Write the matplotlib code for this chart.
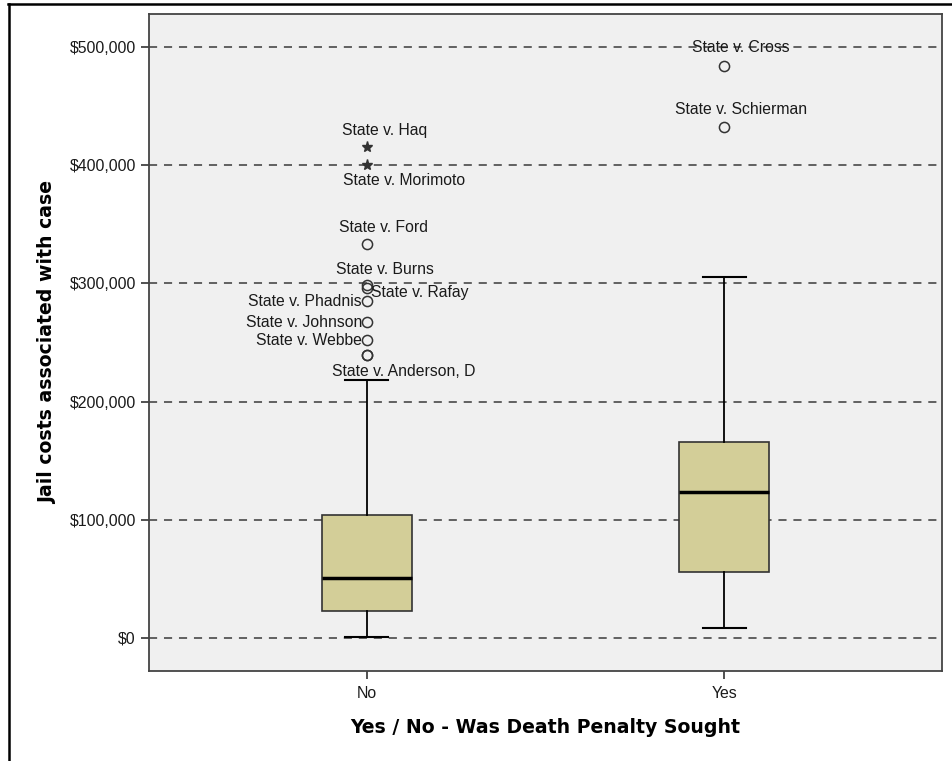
import matplotlib.pyplot as plt
from matplotlib.lines import Line2D
from matplotlib.ticker import FuncFormatter

plt.rcParams['font.family'] = ['Liberation Sans', 'DejaVu Sans']

# group labels and five-number summaries
groups = ['No', 'Yes']
whislo = [1000, 8500]
q1 = [23000, 55800]
med = [50800, 123500]
q3 = [104000, 165800]
whishi = [218300, 305400]

# outliers (group index, value, case, marker)
out_group = [0, 0, 0, 0, 0, 0, 0, 0, 0, 0, 1, 1]
out_value = [415400, 400200, 333300, 298600, 296100, 285100, 267300,
             252100, 239400, 239400, 483700, 432300]
out_case = ['State v. Haq', 'State v. Morimoto', 'State v. Ford', 'State v. Burns',
            'State v. Rafay', 'State v. Phadnis', 'State v. Johnson', 'State v. Webbe',
            '', 'State v. Anderson, D', 'State v. Cross', 'State v. Schierman']
out_marker = ['*', '*', 'o', 'o', 'o', 'o', 'o', 'o', 'o', 'o', 'o', 'o']

# label offsets in pixels and alignment (roughly how SPSS placed them)
lab_off = [(18, 17, 'center'), (37, -15, 'center'), (17, 17, 'center'), (18, 16, 'center'),
           (4, -4, 'left'), (-5, 0, 'right'), (-5, 0, 'right'), (-5, 0, 'right'),
           (0, 0, 'center'), (37, -16, 'center'), (17, 19, 'center'), (17, 18, 'center')]

yticks = [0, 100000, 200000, 300000, 400000, 500000]

fig = plt.figure(figsize=(9.53, 7.61), dpi=100)
ax = fig.add_axes([149 / 953, 90 / 761, 793 / 953, 657 / 761])
ax.set_facecolor('#f0f0f0')

for y in yticks:
    ax.axhline(y, color='#555555', lw=1.3, dashes=(4.5, 3.8), zorder=1)

stats = []
for i, g in enumerate(groups):
    stats.append({'label': g, 'whislo': whislo[i], 'q1': q1[i], 'med': med[i],
                  'q3': q3[i], 'whishi': whishi[i], 'fliers': []})

ax.bxp(stats, positions=[1, 2], widths=0.252, capwidths=0.12, patch_artist=True,
       showfliers=False,
       boxprops=dict(facecolor='#d3ce98', edgecolor='#333333', linewidth=1.2),
       medianprops=dict(color='black', linewidth=2.5),
       whiskerprops=dict(color='black', linewidth=1.3),
       capprops=dict(color='black', linewidth=1.5),
       zorder=3)

for i in range(len(out_value)):
    x = out_group[i] + 1
    if out_marker[i] == '*':
        ax.plot(x, out_value[i], marker='*', color='#333333', markersize=8, zorder=4)
    else:
        ax.plot(x, out_value[i], marker='o', mfc='none', mec='#333333', mew=1.1,
                markersize=7.3, zorder=4)
    if out_case[i]:
        dx, dy, ha = lab_off[i]
        ax.annotate(out_case[i], (x, out_value[i]), xytext=(dx, dy),
                    textcoords='offset pixels', ha=ha, va='center',
                    fontsize=11.3, color='#1a1a1a', zorder=5)

ax.set_xlim(0.39, 2.61)
ax.set_ylim(-28000, 528000)
ax.set_xticks([1, 2])
ax.set_xticklabels(groups)
ax.set_yticks(yticks)
ax.yaxis.set_major_formatter(FuncFormatter(lambda v, p: '${:,.0f}'.format(v)))
ax.tick_params(axis='both', direction='out', length=6, width=1.2, color='#333333',
               labelsize=11.4, labelcolor='#1a1a1a')
ax.tick_params(axis='x', pad=5)
for s in ax.spines.values():
    s.set_color('#444444')
    s.set_linewidth(1.3)

ax.set_xlabel('Yes / No - Was Death Penalty Sought', fontsize=13.6, fontweight='bold',
              family='DejaVu Sans', labelpad=12)
ax.set_ylabel('Jail costs associated with case', fontsize=13.6, fontweight='bold',
              family='DejaVu Sans', labelpad=9)

# outer frame of the screenshot (top and left edges only)
fig.add_artist(Line2D([8 / 953, 1], [1 - 4 / 761, 1 - 4 / 761], color='black', lw=1.8,
                      transform=fig.transFigure))
fig.add_artist(Line2D([9 / 953, 9 / 953], [0, 1 - 4 / 761], color='black', lw=1.8,
                      transform=fig.transFigure))

fig.savefig('out.png', dpi=100)
